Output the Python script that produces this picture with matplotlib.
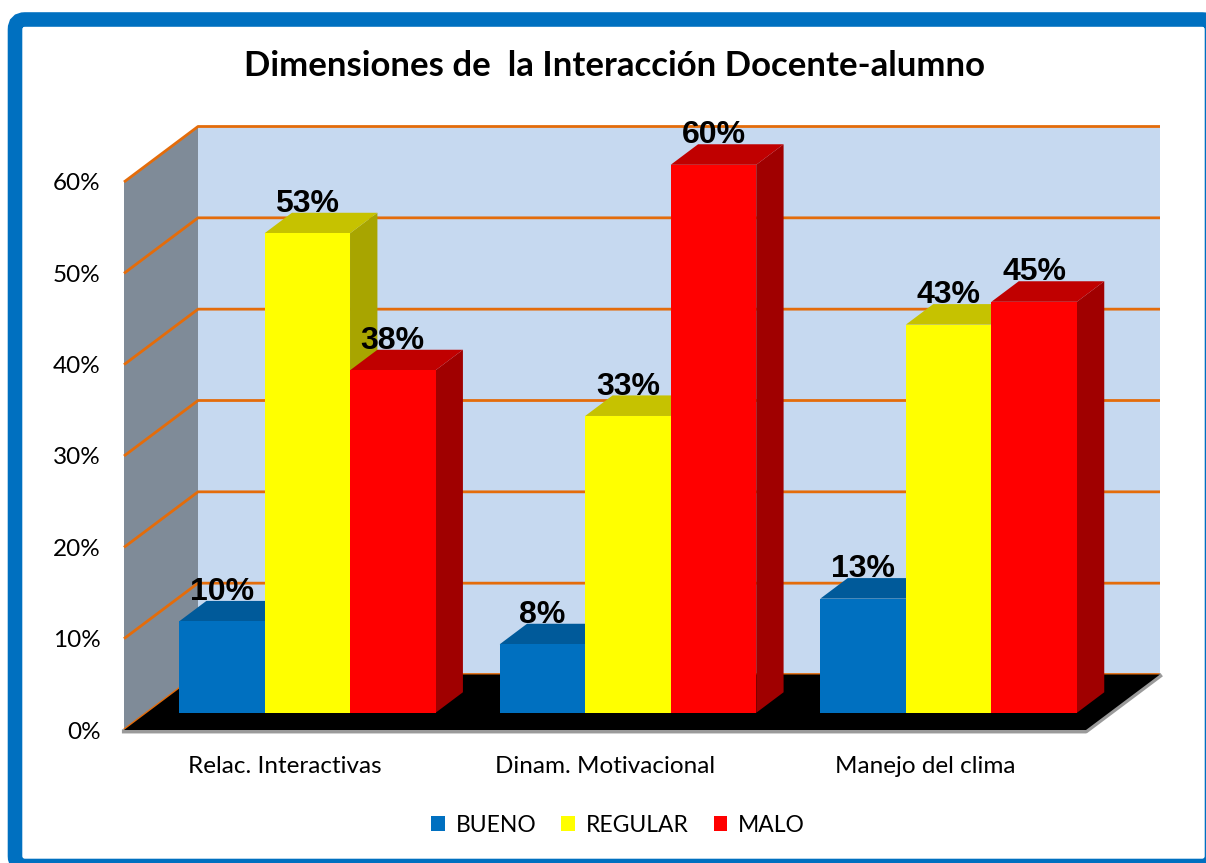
import math
import matplotlib
matplotlib.use("Agg")
import matplotlib.pyplot as plt
from matplotlib.patches import Polygon, Patch, FancyBboxPatch

# ---- data ----
categories = ["Relac. Interactivas", "Dinam. Motivacional", "Manejo del clima"]
series_names = ["BUENO", "REGULAR", "MALO"]
bueno = [10.0, 7.5, 12.5]
regular = [52.5, 32.5, 42.5]
malo = [37.5, 60.0, 45.0]
yticks = [0, 10, 20, 30, 40, 50, 60]
ytick_labels = ["0%", "10%", "20%", "30%", "40%", "50%", "60%"]
title = "Dimensiones de  la Interacción Docente-alumno"

series = [bueno, regular, malo]
front_cols = ["#0070C0", "#FFFF00", "#FF0000"]
top_cols = ["#005A9A", "#C6C200", "#C00000"]
side_cols = ["#004A80", "#A8A500", "#A00000"]

W, H = 1206, 863
fig = plt.figure(figsize=(W / 100, H / 100), dpi=100)
fig.patch.set_facecolor("white")

# outer blue frame
frame = FancyBboxPatch((15 / 100, (H - 866) / 100), (1212 - 15) / 100, (866 - 19.5) / 100,
                       boxstyle="round,pad=0,rounding_size=0.1",
                       transform=fig.dpi_scale_trans, facecolor="white",
                       edgecolor="#0070C0", linewidth=10.5, zorder=-10)
fig.patches.append(frame)

# axes = front plane of the 3D box
ax_left, ax_right = 124, 1086
ax_bottom, ax_top = 730, 182
ax = fig.add_axes([ax_left / W, 1 - ax_bottom / H, (ax_right - ax_left) / W, (ax_bottom - ax_top) / H])
ax.set_zorder(1)
ax.set_xlim(0, 3)
ax.set_ylim(0, 60)
ax.set_facecolor("none")
for s in ax.spines.values():
    s.set_visible(False)

px_x = (ax_right - ax_left) / 3.0
px_y = (ax_bottom - ax_top) / 60.0
DX = 74 / px_x
DY = 55.5 / px_y
YMAX = 60

# walls
ax.add_patch(Polygon([(0, 0), (DX, DY), (DX, YMAX + DY), (0, YMAX)], closed=True,
                     facecolor="#7F8B98", edgecolor="none", clip_on=False, zorder=1))
ax.add_patch(Polygon([(DX, DY), (3 + DX, DY), (3 + DX, YMAX + DY), (DX, YMAX + DY)], closed=True,
                     facecolor="#C6D9F0", edgecolor="none", clip_on=False, zorder=1))
# gridlines
for v in yticks:
    ax.plot([0, DX, 3 + DX], [v, v + DY, v + DY], color="#E46C0A", lw=2.0,
            clip_on=False, zorder=2, solid_capstyle="butt")
# floor shadow + floor
ax.plot([0, 3, 3 + DX], [-0.15, -0.15, DY - 0.15], color="#9A9A9A", lw=3, clip_on=False, zorder=2.5)
ax.add_patch(Polygon([(0, 0), (3, 0), (3 + DX, DY), (DX, DY)], closed=True,
                     facecolor="black", edgecolor="none", clip_on=False, zorder=3))

# bars
f0, f1 = 0.31, 0.68
bw = 0.8 / 3
z = 4
for i in range(len(categories)):
    for j, vals in enumerate(series):
        v = vals[i]
        x0 = i + 0.1 + j * bw + f0 * DX
        y0 = f0 * DY
        ddx = (f1 - f0) * DX
        ddy = (f1 - f0) * DY
        # side
        ax.add_patch(Polygon([(x0 + bw, y0), (x0 + bw + ddx, y0 + ddy),
                              (x0 + bw + ddx, y0 + v + ddy), (x0 + bw, y0 + v)],
                             closed=True, facecolor=side_cols[j], edgecolor="none",
                             clip_on=False, zorder=z))
        # top
        ax.add_patch(Polygon([(x0, y0 + v), (x0 + bw, y0 + v), (x0 + bw + ddx, y0 + v + ddy),
                              (x0 + ddx, y0 + v + ddy)],
                             closed=True, facecolor=top_cols[j], edgecolor="none",
                             clip_on=False, zorder=z))
        # front
        ax.bar(x0, v, width=bw, bottom=y0, align="edge", color=front_cols[j],
               edgecolor="none", clip_on=False, zorder=z + 0.5)
        z += 1
        lab = "%d%%" % int(math.floor(v + 0.5))
        ax.text(x0 + bw / 2, y0 + v + ddy + 0.1, lab, ha="center", va="baseline",
                fontsize=23, fontweight="bold", family="Liberation Sans",
                color="black", zorder=100, clip_on=False)

# ticks
ax.set_yticks(yticks)
ax.set_yticklabels(ytick_labels, family="Lato", fontsize=17.5)
ax.set_xticks([0.5, 1.5, 2.5])
ax.set_xticklabels(categories, family="Lato", fontsize=17.5)
ax.tick_params(axis="both", length=0)
ax.tick_params(axis="y", pad=17)
ax.tick_params(axis="x", pad=18.5)

# title
fig.text(614 / W, 1 - 66 / H, title, ha="center", va="center", fontsize=25,
         fontweight="bold", family="Lato", color="black")

# legend
handles = [Patch(facecolor=c, edgecolor="none", label=n) for c, n in zip(front_cols, series_names)]
leg = fig.legend(handles=handles, loc="center", bbox_to_anchor=(618 / W, 1 - 825 / H), ncol=3,
                 frameon=False, prop={"family": "Lato", "size": 16.5},
                 handlelength=0.6, handleheight=0.6, handletextpad=0.45, columnspacing=1.1)

fig.savefig("out.png", dpi=100, facecolor="white")
